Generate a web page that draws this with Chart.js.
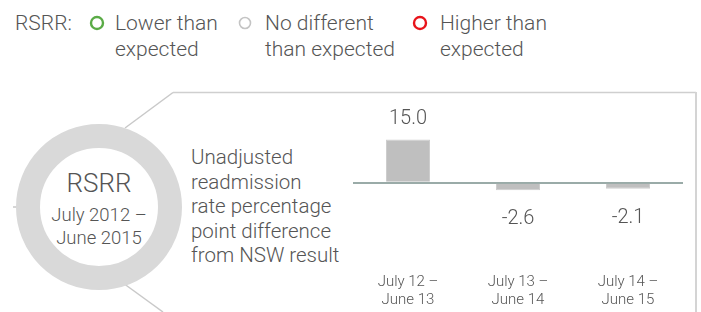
<!DOCTYPE html>
<html lang="en">
<head>
    <meta charset="UTF-8">
    <title>RSRR readmission difference</title>
    <script src="https://cdn.jsdelivr.net/npm/chart.js"></script>
    <style>
        body {
            margin: 0;
            width: 701px;
            height: 312px;
            position: relative;
            overflow: hidden;
            background: #fff;
            font-family: Roboto, "Liberation Sans", Arial, sans-serif;
            font-weight: 300;
            color: #555;
        }

        .abs {
            position: absolute;
            white-space: nowrap;
        }

        .legend-text {
            font-size: 21px;
            line-height: 26px;
        }

        #ring {
            position: absolute;
            left: 16px;
            top: 124px;
            width: 118px;
            height: 118px;
            border: 24px solid #d9d9d9;
            border-radius: 50%;
        }

        .circle-text {
            left: 29px;
            width: 140px;
            text-align: center;
        }

        #desc {
            left: 191px;
            top: 145px;
            font-size: 20.5px;
            line-height: 24.5px;
        }

        /* etwas hoeher als das Fenster, damit die Achsenbeschriftung unten sitzt */
        #chart-wrap {
            position: absolute;
            left: 340px;
            top: 95px;
            width: 361px;
            height: 221px;
        }
    </style>
</head>
<body>
    <!-- Rahmen und Verbindungslinien -->
    <svg class="abs" style="left:0;top:0" width="701" height="312">
        <line x1="125" y1="128" x2="173" y2="92.5" stroke="#c9c9c9" stroke-width="1.5"/>
        <line x1="173" y1="92.5" x2="696" y2="92.5" stroke="#cfcfcf" stroke-width="1.5"/>
        <line x1="696" y1="92" x2="696" y2="312" stroke="#d4d4d4" stroke-width="2"/>
        <line x1="123" y1="283" x2="163" y2="312" stroke="#c9c9c9" stroke-width="1.5"/>
        <line x1="13" y1="207" x2="17" y2="207" stroke="#c9c9c9" stroke-width="1.5"/>
        <circle cx="97" cy="23" r="6" fill="none" stroke="#5aab46" stroke-width="2.4"/>
        <circle cx="245" cy="23" r="5.5" fill="none" stroke="#c4c4c4" stroke-width="1.6"/>
        <circle cx="420" cy="23" r="6" fill="none" stroke="#e8141b" stroke-width="2.4"/>
    </svg>

    <!-- Legende -->
    <div class="abs legend-text" style="left:15px;top:10px">RSRR:</div>
    <div class="abs legend-text" style="left:115px;top:10px">Lower than<br>expected</div>
    <div class="abs legend-text" style="left:265px;top:10px">No different<br>than expected</div>
    <div class="abs legend-text" style="left:440px;top:10px">Higher than<br>expected</div>

    <div id="ring"></div>
    <div class="abs circle-text" style="top:168px;font-size:26px;line-height:30px">RSRR</div>
    <div class="abs circle-text" style="top:204px;font-size:18.5px;line-height:23px">July 2012 –<br>June 2015</div>

    <div id="desc" class="abs">Unadjusted<br>readmission<br>rate percentage<br>point difference<br>from NSW result</div>

    <div id="chart-wrap"><canvas id="diffChart"></canvas></div>

    <script>
        // Daten
        const periods = [['July 12 –', 'June 13'], ['July 13 –', 'June 14'], ['July 14 –', 'June 15']];
        const diffValues = [15.0, -2.6, -2.1];
        const yMin = -29.1;
        const yMax = 28.7;

        const fontFamily = 'Roboto, "Liberation Sans", Arial, sans-serif';

        // Werte ueber bzw. unter den Balken schreiben
        const valueLabels = {
            id: 'valueLabels',
            afterDatasetsDraw(chart) {
                const ctx = chart.ctx;
                const meta = chart.getDatasetMeta(0);
                ctx.save();
                ctx.font = '300 20px ' + fontFamily;
                ctx.fillStyle = '#555';
                ctx.textAlign = 'center';
                ctx.textBaseline = 'middle';
                meta.data.forEach(function(bar, i) {
                    const v = diffValues[i];
                    const y = v >= 0 ? bar.y - 20 : bar.y + 29;
                    ctx.fillText(v.toFixed(1), bar.x, y);
                });
                ctx.restore();
            }
        };

        new Chart(document.getElementById('diffChart'), {
            type: 'bar',
            data: {
                labels: periods,
                datasets: [{
                    data: diffValues,
                    backgroundColor: '#bfbfbf',
                    borderColor: '#cdcdcd',
                    borderWidth: 1,
                    barPercentage: 0.4,
                    categoryPercentage: 1
                }]
            },
            options: {
                responsive: true,
                maintainAspectRatio: false,
                animation: false,
                layout: {
                    padding: { left: 13, right: 18, top: 5, bottom: 0 }
                },
                plugins: {
                    legend: { display: false },
                    tooltip: { enabled: false }
                },
                scales: {
                    x: {
                        grid: { display: false, drawTicks: false },
                        border: { display: false },
                        ticks: {
                            padding: 6,
                            color: '#555',
                            font: { family: fontFamily, size: 15, weight: 300, lineHeight: 1.25 }
                        }
                    },
                    y: {
                        min: yMin,
                        max: yMax,
                        afterBuildTicks: function(axis) {
                            axis.ticks = [{ value: 0 }];
                        },
                        grid: { color: '#9aaba8', lineWidth: 2, drawTicks: false },
                        border: { display: false },
                        ticks: { display: false }
                    }
                }
            },
            plugins: [valueLabels]
        });
    </script>
</body>
</html>
